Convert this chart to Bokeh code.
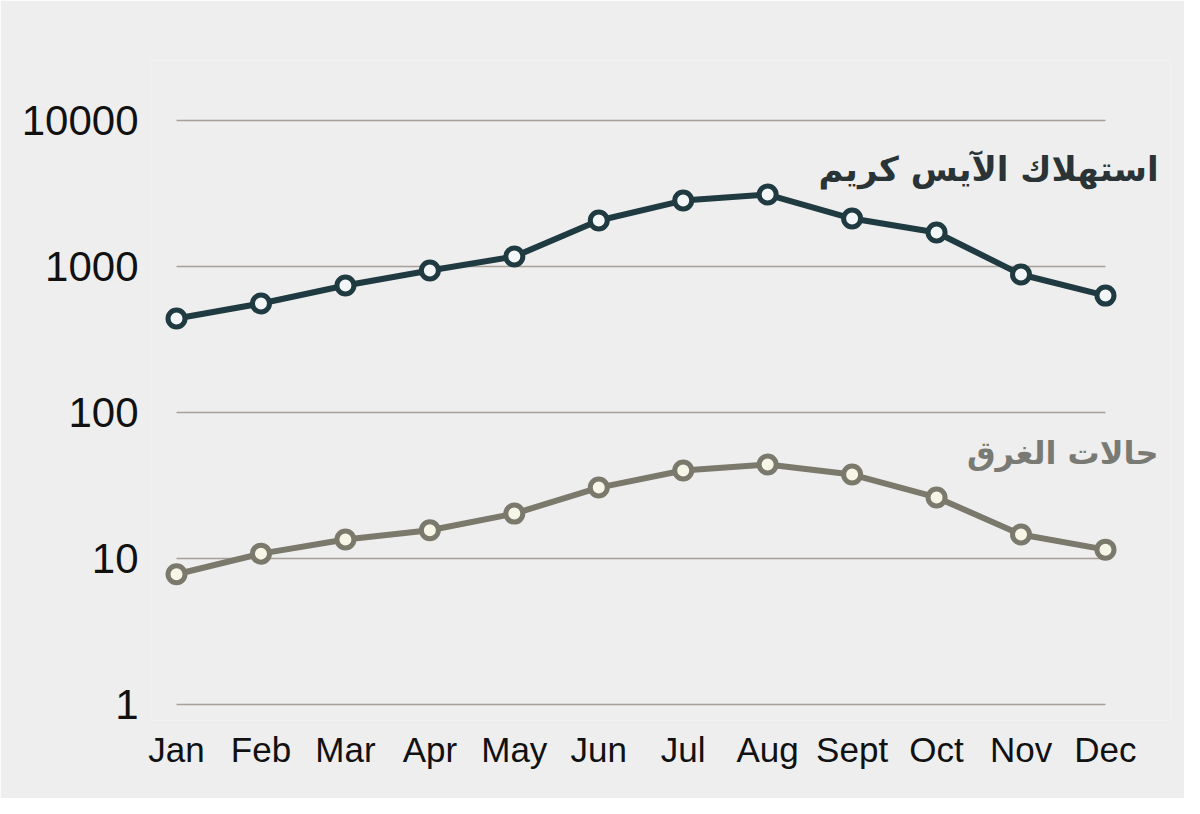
from bokeh.plotting import figure
from bokeh.models import FixedTicker, Range1d, Label
from bokeh.embed import file_html
from bokeh.resources import INLINE

months = ["Jan", "Feb", "Mar", "Apr", "May", "Jun", "Jul", "Aug", "Sept", "Oct", "Nov", "Dec"]
ice_cream = [441, 558, 741, 939, 1170, 2065, 2830, 3110, 2130, 1710, 882, 632]
drowning = [7.8, 10.8, 13.5, 15.6, 20.3, 30.6, 40.1, 44.0, 37.6, 26.2, 14.6, 11.5]
y_ticks = [1, 10, 100, 1000, 10000]
label_ice = "استهلاك الآيس كريم"
label_drown = "حالات الغرق"

xs = list(range(len(months)))
BG = "#eeeeee"

p = figure(width=1184, height=798, output_backend="svg", toolbar_location=None,
           y_axis_type="log",
           x_range=Range1d(-0.308, 11.77), y_range=Range1d(0.777, 25770),
           min_border_left=150, min_border_right=14, min_border_top=60, min_border_bottom=78,
           background_fill_color=BG, border_fill_color=BG, outline_line_color=None)

p.xgrid.visible = False
p.ygrid.visible = False

# gridlines spanning the months only
p.segment(x0=[xs[0]] * len(y_ticks), x1=[xs[-1]] * len(y_ticks), y0=y_ticks, y1=y_ticks,
          line_color="#a8a098", line_width=1.5)

p.line(xs, ice_cream, line_color="#1f3a40", line_width=6)
p.scatter(xs, ice_cream, size=17, fill_color="#f2f6f6", line_color="#1f3a40", line_width=5)

p.line(xs, drowning, line_color="#7a796c", line_width=6)
p.scatter(xs, drowning, size=17, fill_color="#f6f6e6", line_color="#7a796c", line_width=5)

p.xaxis.ticker = FixedTicker(ticks=xs)
p.xaxis.major_label_overrides = {i: m for i, m in enumerate(months)}
p.yaxis.ticker = FixedTicker(ticks=y_ticks)
p.yaxis.major_label_overrides = {t: str(t) for t in y_ticks}

for ax in (p.xaxis[0], p.yaxis[0]):
    ax.axis_line_color = None
    ax.major_tick_line_color = None
    ax.minor_tick_line_color = None
    ax.major_label_text_font = "Liberation Sans"
    ax.major_label_text_color = "#111111"

p.xaxis.major_label_text_font_size = "35px"
p.xaxis.major_label_standoff = 3
p.yaxis.major_label_text_font_size = "42px"
p.yaxis.major_label_standoff = 6

p.add_layout(Label(x=11.63, y=4690, text=label_ice, text_align="right", text_baseline="middle",
                   text_font="DejaVu Sans", text_font_style="bold", text_font_size="34px",
                   text_color="#2a3436"))
p.add_layout(Label(x=11.63, y=53.2, text=label_drown, text_align="right", text_baseline="middle",
                   text_font="DejaVu Sans", text_font_style="bold", text_font_size="32px",
                   text_color="#7a7a74"))

open("out.html", "w").write(file_html(p, INLINE))
